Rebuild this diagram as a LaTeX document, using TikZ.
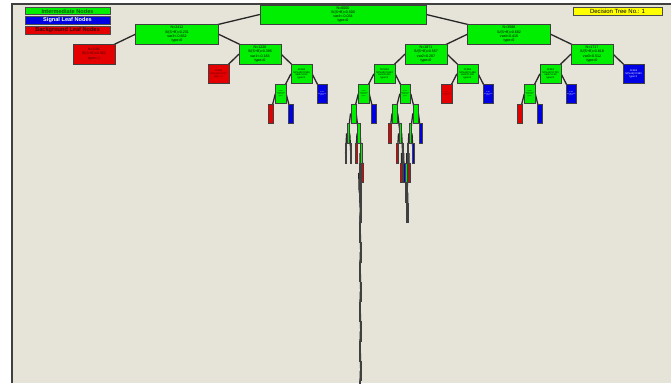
\documentclass[tikz,border=0pt]{standalone}
\usepackage{fontspec}
\setmainfont{Liberation Sans}
\definecolor{bgbeige}{RGB}{230,227,216}
\definecolor{intg}{RGB}{0,238,0}
\definecolor{sigb}{RGB}{0,0,228}
\definecolor{bkgr}{RGB}{228,0,0}
\definecolor{yel}{RGB}{255,255,0}
\definecolor{bkgtxt}{RGB}{80,0,0}
\pgfdeclarelayer{bg}
\pgfdeclarelayer{edges}
\pgfsetlayers{bg,edges,main}
\tikzset{
  tnode/.style={draw=black!75, line width=0.5pt, inner sep=0pt, minimum height=19.5pt, align=center},
  intn/.style={tnode, fill=intg, text=black},
  sign/.style={tnode, fill=sigb, text=white},
  bkgn/.style={tnode, fill=bkgr, text=bkgtxt},
  conn/.style={draw=black!85, line width=1.3pt},
  legbox/.style={draw=black!70, line width=0.6pt, minimum width=85pt, minimum height=7.5pt, inner sep=0pt, font=\fontsize{5.6}{6}\selectfont\bfseries},
}
\newcommand\TN[5]{%
  \pgfmathsetmacro\tnw{#3>8 ? 0.5 : max(1.7,166*0.5^#3)}%
  \pgfmathsetmacro\tnf{min(3.6,\tnw*0.12)}%
  \pgfmathsetmacro\tnb{\tnf*1.18}%
  \pgfmathsetmacro\tny{14.5+19.8*#3}%
  \node[#4, minimum width=\tnw pt, font=\fontsize{\tnf}{\tnb}\selectfont] (#1) at (#2,\tny) {#5};%
}
\newcommand\EW[2]{\draw[conn] (#1.west) -- (#2.center);}
\newcommand\EE[2]{\draw[conn] (#1.east) -- (#2.center);}
\begin{document}
\begin{tikzpicture}[x=1pt,y=-1pt]
\useasboundingbox (0,0) rectangle (671,383);
\clip (0,0) rectangle (671,383);
\begin{pgfonlayer}{bg}
  \fill[white] (0,0) rectangle (671,383);
  \fill[bgbeige] (12,4) rectangle (671,383);
\end{pgfonlayer}
\draw[black!75, line width=1.3pt] (12,383) -- (12,4) -- (671,4);

% legend and title
\node[legbox, fill=intg, text=green!35!black] (lg1) at (67.5,11) {Intermediate Nodes};
\node[legbox, fill=sigb, text=white] (lg2) at (67.5,20.5) {Signal Leaf Nodes};
\node[legbox, fill=bkgr, text=red!25!black] (lg3) at (67.5,30.5) {Background Leaf Nodes};
\node[draw=black!70, line width=0.6pt, fill=yel, minimum width=89pt, minimum height=7.5pt, inner sep=0pt, font=\fontsize{6}{6.5}\selectfont] (title) at (617.5,11.5) {Decision Tree No.: 1};

% depth 0-2
\TN{n0}{343}{0}{intn}{N=6000\\S/(S+B)=0.500\\var4<-0.034\\type=0}
\TN{n1}{177}{1}{intn}{N=2412\\S/(S+B)=0.231\\var3<-0.652\\type=0}
\TN{n2}{509}{1}{intn}{N=3588\\S/(S+B)=0.682\\var4<0.415\\type=0}
\TN{n3}{94}{2}{bkgn}{N=1186\\S/(S+B)=0.062\\type=-1}
\TN{n4}{260}{2}{intn}{N=1226\\S/(S+B)=0.395\\var1<-0.183\\type=0}
\TN{n5}{426}{2}{intn}{N=1871\\S/(S+B)=0.557\\var2<0.207\\type=0}
\TN{n6}{592}{2}{intn}{N=1717\\S/(S+B)=0.818\\var3<0.512\\type=0}
% depth 3
\TN{n7}{218.5}{3}{bkgn}{N=563\\S/(S+B)=0.217\\type=-1}
\TN{n8}{301.5}{3}{intn}{N=663\\S/(S+B)=0.546\\var4<-0.52\\type=0}
\TN{n9}{384.5}{3}{intn}{N=1018\\S/(S+B)=0.633\\var1<0.412\\type=0}
\TN{n10}{467.5}{3}{intn}{N=853\\S/(S+B)=0.466\\var3<0.106\\type=0}
\TN{n11}{550.5}{3}{intn}{N=912\\S/(S+B)=0.701\\var2<-0.33\\type=0}
\TN{n12}{633.5}{3}{sign}{N=805\\S/(S+B)=0.950\\type=1}
% depth 4
\TN{n13}{280.75}{4}{intn}{N=392\\S/(S+B)=0.433\\var2<0.61\\type=0}
\TN{n14}{322.25}{4}{sign}{N=271\\S/(S+B)=0.709\\type=1}
\TN{n15}{363.75}{4}{intn}{N=647\\S/(S+B)=0.571\\var3<0.27\\type=0}
\TN{n16}{405.25}{4}{intn}{N=371\\S/(S+B)=0.741\\var4<-0.21\\type=0}
\TN{n17}{446.75}{4}{bkgn}{N=402\\S/(S+B)=0.289\\type=-1}
\TN{n18}{488.25}{4}{sign}{N=451\\S/(S+B)=0.624\\type=1}
\TN{n19}{529.75}{4}{intn}{N=386\\S/(S+B)=0.512\\var1<0.05\\type=0}
\TN{n20}{571.25}{4}{sign}{N=526\\S/(S+B)=0.840\\type=1}
% depth 5
\TN{n21}{270.375}{5}{bkgn}{}
\TN{n22}{291.125}{5}{sign}{}
\TN{n23}{353.375}{5}{intn}{}
\TN{n24}{374.125}{5}{sign}{}
\TN{n25}{394.875}{5}{intn}{}
\TN{n26}{415.625}{5}{intn}{}
\TN{n27}{519.375}{5}{bkgn}{}
\TN{n28}{540.125}{5}{sign}{}
% depth 6
\TN{n29}{348.19}{6}{intn}{}
\TN{n30}{358.56}{6}{intn}{}
\TN{n31}{389.69}{6}{bkgn}{}
\TN{n32}{400.06}{6}{intn}{}
\TN{n33}{410.44}{6}{intn}{}
\TN{n34}{420.81}{6}{sign}{}
% depth 7
\TN{n35}{345.6}{7}{bkgn}{}
\TN{n36}{350.78}{7}{sign}{}
\TN{n37}{355.97}{7}{bkgn}{}
\TN{n38}{361.16}{7}{intn}{}
\TN{n39}{397.47}{7}{bkgn}{}
\TN{n40}{402.66}{7}{intn}{}
\TN{n41}{407.84}{7}{intn}{}
\TN{n42}{413.03}{7}{sign}{}
% depth 8
\TN{n43}{359.86}{8}{intn}{}
\TN{n44}{362.45}{8}{bkgn}{}
\TN{n45}{401.36}{8}{bkgn}{}
\TN{n46}{403.95}{8}{sign}{}
\TN{n47}{406.55}{8}{intn}{}
\TN{n48}{409.14}{8}{bkgn}{}
% depth 9
\TN{n49}{359.21}{9}{sign}{}
\TN{n50}{360.51}{9}{intn}{}
\TN{n51}{405.9}{9}{sign}{}
\TN{n52}{407.2}{9}{intn}{}
% depth 10
\TN{c10}{360.19}{10}{intn}{}
\TN{n54}{360.83}{10}{bkgn}{}
\TN{n55}{406.87}{10}{bkgn}{}
\TN{n56}{407.52}{10}{sign}{}
% deep chain
\foreach \d in {11,...,19}{
  \pgfmathsetmacro\lx{360.3+ifthenelse(mod(\d,2)==0,0.4,-0.4)}
  \ifodd\d\def\lc{sigb}\else\def\lc{bkgr}\fi
  \TN{c\d}{360.3}{\d}{intn}{}
  \TN{cl\d}{\lx}{\d}{intn,fill=\lc}{}
}

\begin{pgfonlayer}{edges}
\EW{n0}{n1}\EE{n0}{n2}
\EW{n1}{n3}\EE{n1}{n4}
\EW{n2}{n5}\EE{n2}{n6}
\EW{n4}{n7}\EE{n4}{n8}
\EW{n5}{n9}\EE{n5}{n10}
\EW{n6}{n11}\EE{n6}{n12}
\EW{n8}{n13}\EE{n8}{n14}
\EW{n9}{n15}\EE{n9}{n16}
\EW{n10}{n17}\EE{n10}{n18}
\EW{n11}{n19}\EE{n11}{n20}
\EW{n13}{n21}\EE{n13}{n22}
\EW{n15}{n23}\EE{n15}{n24}
\EW{n16}{n25}\EE{n16}{n26}
\EW{n19}{n27}\EE{n19}{n28}
\EW{n23}{n29}\EE{n23}{n30}
\EW{n25}{n31}\EE{n25}{n32}
\EW{n26}{n33}\EE{n26}{n34}
\EW{n29}{n35}\EE{n29}{n36}
\EW{n30}{n37}\EE{n30}{n38}
\EW{n32}{n39}\EE{n32}{n40}
\EW{n33}{n41}\EE{n33}{n42}
\EW{n38}{n43}\EE{n38}{n44}
\EW{n40}{n45}\EE{n40}{n46}
\EW{n41}{n47}\EE{n41}{n48}
\EW{n43}{n49}\EE{n43}{n50}
\EW{n47}{n51}\EE{n47}{n52}
\EW{n50}{c10}\EE{n50}{n54}
\EW{n52}{n55}\EE{n52}{n56}
\foreach \d [evaluate=\d as \pd using int(\d-1)] in {11,...,19}{
  \draw[conn] (c\pd.center) -- (c\d.center);
  \draw[conn] (c\pd.center) -- (cl\d.center);
}
\end{pgfonlayer}
\end{tikzpicture}
\end{document}
